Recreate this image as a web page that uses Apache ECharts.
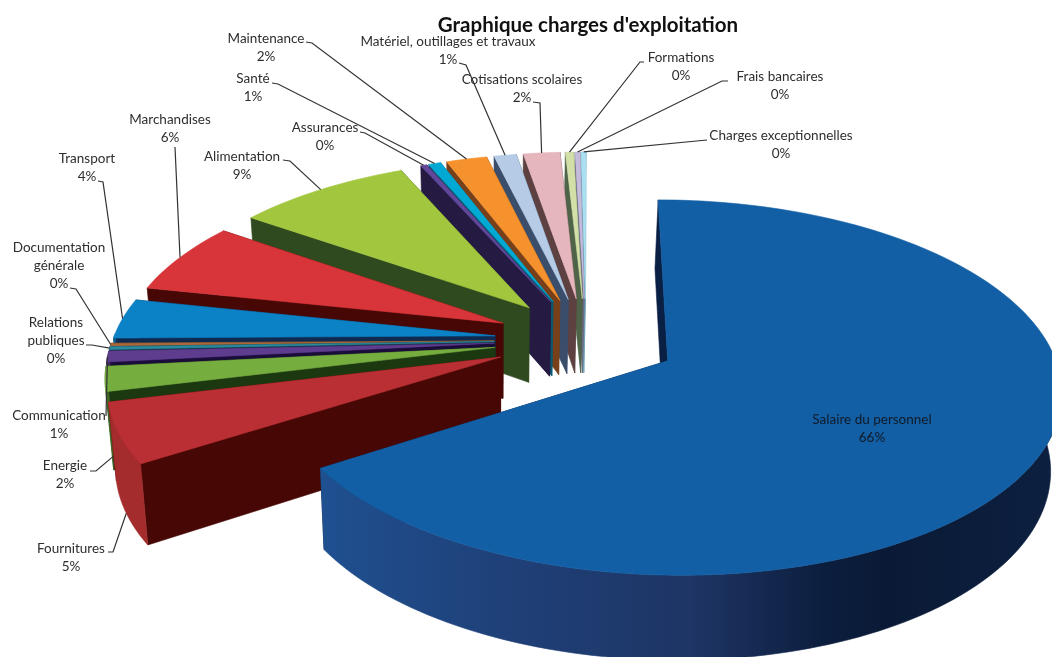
<!DOCTYPE html>
<html>
<head>
<meta charset="utf-8">
<title>Graphique charges d'exploitation</title>
<script src="https://cdn.jsdelivr.net/npm/echarts@6/dist/echarts.min.js"></script>
<style>
    html, body { margin: 0; padding: 0; background: #fff; }
    #chart { width: 1052px; height: 657px; }
</style>
</head>
<body>
<div id="chart"></div>
<script>
    const categories = ['Salaire du personnel', 'Fournitures', 'Energie', 'Communication', 'Relations\npubliques',
        'Documentation\ngénérale', 'Transport', 'Marchandises', 'Alimentation', 'Assurances', 'Santé', 'Maintenance',
        'Matériel, outillages et travaux', 'Cotisations scolaires', 'Formations', 'Frais bancaires', 'Charges exceptionnelles'];
    const values = [65.9, 5.25, 2.17, 0.95, 0.25, 0.25, 3.55, 6.4, 8.6, 0.3, 0.6, 2, 1.1, 1.8, 0.4, 0.24, 0.24];

    const topColors = ['#125fa5', '#ba2f33', '#76ad3f', '#5e3c8e', '#2a8aa0', '#a8683a', '#0b81c6', '#d73539', '#a2c73f',
        '#60479a', '#00a9d4', '#f6922d', '#b6cce6', '#e6b6bd', '#d2e0a8', '#c5bcdb', '#a9dff0'];
    const wallColors = ['#0a1f44', '#470805', '#1c3810', '#1a0d3a', '#123c48', '#3a2a18', '#0f2a50', '#470805', '#2f4a1e',
        '#241a42', '#0c5870', '#77401a', '#3a4e6c', '#5d4040', '#4f6348', '#6b6a85', '#6aa0b5'];
    const rimColors = ['', '#a42c2d', '#3f6a22', '#3c2a60', '#1a5060', '#604020', '#0a5c90', '#a82c2c', '#6f8a2c',
        '#40306a', '#0480a0', '#b06a20', '#8090a8', '#a08088', '#90a070', '#8880a0', '#80a8b8'];

    // label centre and leader elbow points, same order as categories
    const labelPos = [[872, 429], [71, 558], [65, 475], [59, 425], [56, 341], [59, 266], [87, 168], [170, 129], [242, 166],
        [325, 137], [253, 88], [266, 48], [448, 51], [522, 89], [681, 67], [780, 86], [781, 145]];
    const leaderPts = [[], [[108, 552], [113, 552]], [[90, 471], [96, 471]], [[106, 416]], [[86, 345], [92, 345]],
        [[70, 288], [76, 289]], [[98, 181], [103, 182]], [[175, 147]], [[283, 160], [290, 161]], [[360, 132], [365, 133]],
        [[272, 83], [278, 84]], [[306, 42], [312, 43]], [[459, 63], [466, 65]], [[533, 102], [540, 103]],
        [[644, 62], [640, 62]], [[728, 81], [722, 81]], [[707, 140]]];
    const leaderDrop = [0, 1, 1, 0, 0, 0, 0, 0, 0, 0, 0, 0, 0, 0, 0, 0, 0];

    // projection of the pie plane
    const view = { cx: 586, cy: 340, a: 382, b: 178, k: 0.14, skew: 0, explode: 0.24, start: 0.1, vpx: 500 };

    function project(u, v) {
        const w = 1 + view.k * v;
        return [view.cx + view.a * u / w, view.cy - view.b * v / w - view.skew * u];
    }
    function lower(u, v) {
        const p = project(u, v);
        return [p[0] + (view.vpx - p[0]) * 0.02, p[1] + 76 - 8 * v];
    }

    const total = values.reduce((s, x) => s + x, 0);
    const angles = [];
    let run = view.start;
    values.forEach(x => {
        angles.push([run, run + x / total * 360]);
        run += x / total * 360;
    });

    function sliceGeom(i) {
        const a0 = angles[i][0] * Math.PI / 180, a1 = angles[i][1] * Math.PI / 180, mid = (a0 + a1) / 2;
        const ou = view.explode * Math.sin(mid), ov = view.explode * Math.cos(mid);
        const rim = [], front = [];
        const n = Math.max(2, Math.ceil((angles[i][1] - angles[i][0]) / 1.5));
        for (let s = 0; s <= n; s++) {
            const t = a0 + (a1 - a0) * s / n;
            const p = [ou + Math.sin(t), ov + Math.cos(t)];
            rim.push(p);
            // only the part of the rim that faces the viewer gets a wall
            if (Math.cos(t) < 0.03) front.push(p);
        }
        return { ou, ov, rim, front, mid };
    }

    function poly(points, fill) {
        return { type: 'polygon', shape: { points }, style: { fill, stroke: fill, lineWidth: 0.6 } };
    }

    function renderSlice(params, api) {
        const i = api.value(0);
        const g = sliceGeom(i);
        const c = [g.ou, g.ov];
        const first = g.rim[0], last = g.rim[g.rim.length - 1];
        const rimFill = i === 0
            ? new echarts.graphic.LinearGradient(0, 0, 1, 0, [
                { offset: 0, color: '#1f5090' }, { offset: 0.25, color: '#1f4078' }, { offset: 0.5, color: '#1e3565' },
                { offset: 0.68, color: '#0c1e3e' }, { offset: 0.76, color: '#0a1a36' }, { offset: 1, color: '#0d2040' }])
            : rimColors[i];
        const wall = (a, b) => poly([project(a[0], a[1]), project(b[0], b[1]), lower(b[0], b[1]), lower(a[0], a[1])], wallColors[i]);
        const topPoly = [project(c[0], c[1])].concat(g.rim.map(p => project(p[0], p[1])));
        const children = [wall(c, last), wall(c, first)];
        if (g.front.length > 1) {
            children.push(poly(g.front.map(p => project(p[0], p[1])).concat(g.front.slice().reverse().map(p => lower(p[0], p[1]))), rimFill));
        }
        children.push(poly(topPoly, topColors[i]));
        return { type: 'group', children };
    }

    function renderLabel(params, api) {
        const i = api.value(0);
        const g = sliceGeom(i);
        const pct = Math.round(api.value(1)) + '%';
        const children = [{
            type: 'text',
            x: labelPos[i][0],
            y: labelPos[i][1],
            style: {
                text: categories[i] + '\n' + pct,
                font: '13.5px Lato',
                lineHeight: 18,
                fill: i === 0 ? '#111a26' : '#2e2e2e',
                align: 'center',
                verticalAlign: 'middle'
            }
        }];
        if (leaderPts[i].length) {
            const tip = [g.ou + Math.sin(g.mid), g.ov + Math.cos(g.mid)];
            const end = leaderDrop[i] ? lower(tip[0], tip[1]) : project(tip[0], tip[1]);
            children.push({
                type: 'polyline',
                shape: { points: leaderPts[i].concat([end]) },
                style: { stroke: '#333', lineWidth: 1.2, fill: null }
            });
        }
        return { type: 'group', children };
    }

    const order = values.map((x, i) => i).reverse();

    const myChart = echarts.init(document.getElementById('chart'));
    myChart.setOption({
        backgroundColor: '#fff',
        animation: false,
        title: {
            text: "Graphique charges d'exploitation",
            left: 583,
            top: 10,
            textAlign: 'center',
            textStyle: { fontFamily: 'Lato', fontSize: 20.5, fontWeight: 'bold', color: '#111' }
        },
        series: [{
            type: 'custom',
            coordinateSystem: 'none',
            name: 'Charges',
            silent: true,
            renderItem: renderSlice,
            data: order.map(i => [i, values[i]]),
            z: 2
        }, {
            type: 'custom',
            coordinateSystem: 'none',
            name: 'Labels',
            silent: true,
            renderItem: renderLabel,
            data: order.map(i => [i, values[i]]),
            z: 3
        }]
    });
</script>
</body>
</html>
